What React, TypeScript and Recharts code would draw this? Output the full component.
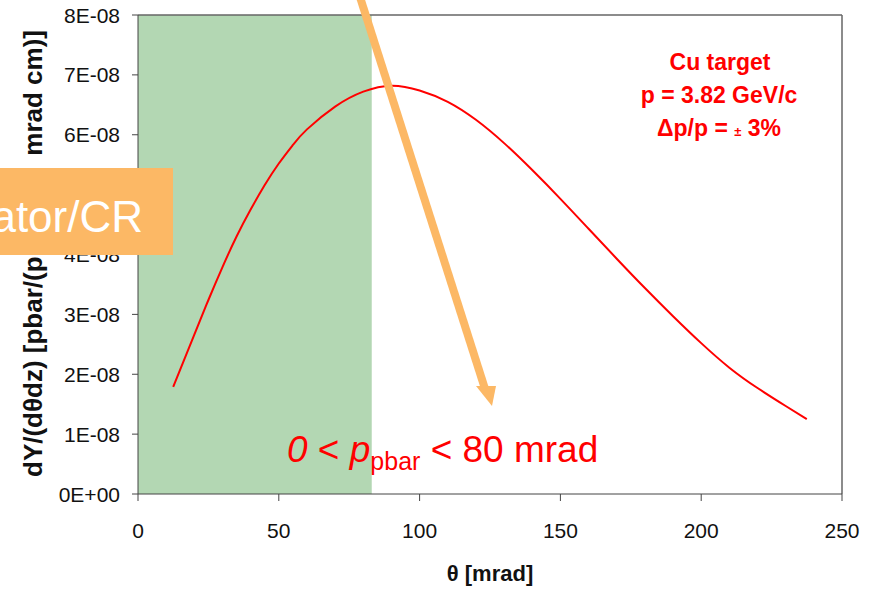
import { LineChart, Line, XAxis, YAxis, ReferenceArea, ReferenceLine } from 'recharts'

// θ [mrad] and dY/(dθdz)
const thetaMrad = [12.5, 20, 25, 30, 35, 40, 45, 50, 55, 60, 70, 80, 90, 100, 110, 120, 130, 140, 150, 160, 170, 180, 190, 200, 210, 220, 230, 237.5]
const yieldValues = [
  1.79e-8, 2.66e-8, 3.24e-8, 3.79e-8, 4.3e-8, 4.75e-8, 5.16e-8, 5.52e-8, 5.83e-8, 6.09e-8,
  6.47e-8, 6.72e-8, 6.82e-8, 6.74e-8, 6.55e-8, 6.25e-8, 5.86e-8, 5.41e-8, 4.93e-8, 4.43e-8,
  3.93e-8, 3.44e-8, 2.97e-8, 2.52e-8, 2.11e-8, 1.77e-8, 1.47e-8, 1.25e-8,
]
const xTicks = [0, 50, 100, 150, 200, 250]
const yTicks = [0, 1e-8, 2e-8, 3e-8, 4e-8, 5e-8, 6e-8, 7e-8, 8e-8]
const acceptanceRange = [0, 83] // shaded θ window

const chartData = thetaMrad.map((t, i) => ({ theta: t, y: yieldValues[i] }))

const FONT = '"Liberation Sans", Arial, sans-serif'
const ORANGE = '#fcb865'

function sci(v: number) {
  if (v === 0) return '0E+00'
  return `${Math.round(v * 1e8)}E-08`
}

function YTick({ x, y, payload }: any) {
  return (
    <text x={x} y={y} textAnchor="end" dy="0.36em" fontFamily={FONT} fontSize={21} fill="#111">
      {sci(payload.value)}
    </text>
  )
}

function XTick({ x, y, payload }: any) {
  return (
    <text x={x} y={y} textAnchor="middle" dy="0.72em" fontFamily={FONT} fontSize={21} fill="#111">
      {payload.value}
    </text>
  )
}

export default function App() {
  return (
    <div style={{ position: 'absolute', left: 0, top: 0, width: 873, height: 589, background: '#fff', overflow: 'hidden' }}>
      <LineChart width={873} height={589} data={chartData} margin={{ top: 15, right: 31, bottom: 0, left: 0 }}>
        <XAxis dataKey="theta" type="number" domain={[0, 250]} ticks={xTicks} height={95}
          stroke="#444" tickSize={7} tickMargin={22} tick={<XTick />} />
        <YAxis type="number" domain={[0, 8e-8]} ticks={yTicks} width={138}
          stroke="#444" tickSize={6} tickMargin={12} tick={<YTick />} />
        <ReferenceLine y={8e-8} stroke="#666" strokeWidth={1.5} />
        <ReferenceLine x={250} stroke="#666" strokeWidth={1.5} />
        <Line dataKey="y" type="natural" stroke="#ff0000" strokeWidth={2} dot={false} isAnimationActive={false} />
        <ReferenceArea x1={acceptanceRange[0]} x2={acceptanceRange[1]} y1={0} y2={8e-8}
          fill="#68b068" fillOpacity={0.5} stroke="none" ifOverflow="visible" />
      </LineChart>

      {/* overlay: annotations, arrow and slide box */}
      <svg width={873} height={589} style={{ position: 'absolute', left: 0, top: 0, pointerEvents: 'none' }}>
        <g fontFamily={FONT} fontWeight="bold" fontSize={23} fill="#ff0000" textAnchor="middle">
          <text x={720} y={70}>Cu target</text>
          <text x={719} y={103}>p = 3.82 GeV/c</text>
          <text x={719} y={136}>
            Δp/p = <tspan fontSize={13}>±</tspan> 3%
          </text>
        </g>

        <text x={287} y={462} fontFamily={FONT} fontSize={37} fill="#ff0000">
          <tspan fontStyle="italic">0</tspan> &lt; <tspan fontStyle="italic">p</tspan>
          <tspan fontSize={25} dy={8}>pbar</tspan>
          <tspan dy={-8}> &lt; 80 mrad</tspan>
        </text>

        <text x={490} y={581} textAnchor="middle" fontFamily={FONT}
          fontSize={22} fontWeight="bold" fill="#111">θ [mrad]</text>

        <g fontFamily={FONT} fontSize={26} fontWeight="bold" fill="#111">
          <text transform="translate(42,477) rotate(-90)" textAnchor="start">dY/(dθdz) [pbar/(p</text>
          <text transform="translate(42,30) rotate(-90)" textAnchor="end">mrad cm)]</text>
        </g>

        <line x1={359} y1={-6} x2={486} y2={392} stroke={ORANGE} strokeWidth={8} />
        <polygon points="476,386 496,386 492,406" fill={ORANGE} />

        <rect x={0} y={168} width={173} height={87} fill={ORANGE} />
        <text x={143} y={232} textAnchor="end" fontFamily={FONT} fontSize={44} fill="#fff">ator/CR</text>
      </svg>
    </div>
  )
}
